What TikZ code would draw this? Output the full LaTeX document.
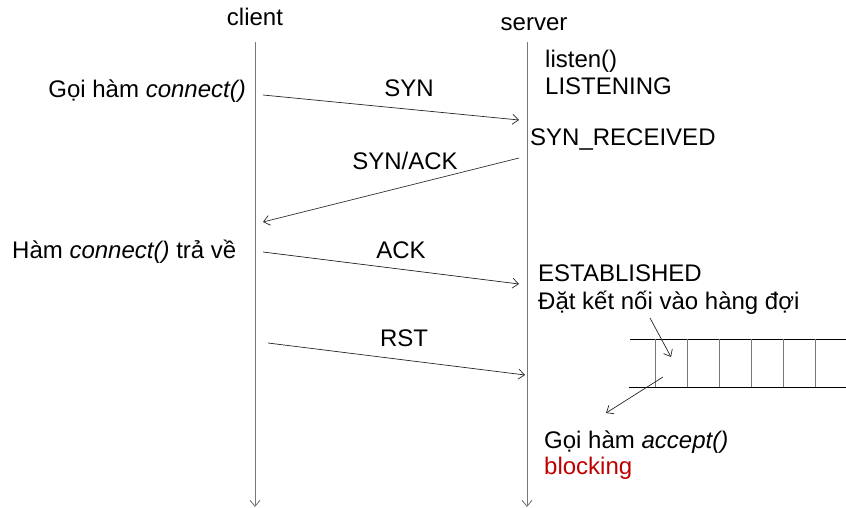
\documentclass[tikz,border=0pt]{standalone}
\usepackage{fontspec}
\setmainfont{Liberation Sans}
\usetikzlibrary{arrows.meta}

\definecolor{lifegray}{RGB}{120,120,120}
\definecolor{blockred}{RGB}{192,0,0}

\tikzset{
  lbl/.style={inner sep=0pt, font=\fontsize{24}{27}\selectfont},
  msg/.style={draw=black!85, line width=0.7pt, -{Straight Barb[length=6pt,width=10pt]}},
  life/.style={draw=lifegray, line width=0.9pt, -{Straight Barb[length=6pt,width=10pt]}},
}

\begin{document}
\begin{tikzpicture}[x=1pt,y=-1pt]
\useasboundingbox (0,0) rectangle (846,508);
% the two life lines
\coordinate (ctop) at (255,42);
\coordinate (cbot) at (255,507);
\coordinate (stop) at (527,42);
\coordinate (sbot) at (527,507);
\draw[life] (ctop) -- (cbot);
\draw[life] (stop) -- (sbot);
\node[lbl, anchor=base] (client) at (255,26) {client};
\node[lbl, anchor=base] (server) at (534,31) {server};
% texts on the client side
\node[lbl, anchor=base east] (connect) at (246,98) {Gọi hàm \textit{connect()}};
\node[lbl, anchor=base west] (returns) at (12,258) {Hàm \textit{connect()} trả về};
% texts on the server side
\node[lbl, anchor=base west] (listen) at (545,68) {listen()};
\node[lbl, anchor=base west] (listening) at (545,95) {LISTENING};
\node[lbl, anchor=base west] (synrecv) at (530,146) {SYN\_RECEIVED};
\node[lbl, anchor=base west] (established) at (538,281) {ESTABLISHED};
\node[lbl, anchor=base west] (enqueue) at (538,309) {Đặt kết nối vào hàng đợi};
\node[lbl, anchor=base west] (accept) at (544,448) {Gọi hàm \textit{accept()}};
\node[lbl, anchor=base west, text=blockred] (blocking) at (544,474) {blocking};
% the messages
\coordinate (syn0) at (263,95);   \coordinate (syn1) at (519,120);
\coordinate (sa0) at (519,158);   \coordinate (sa1) at (263,222);
\coordinate (ack0) at (263,252);  \coordinate (ack1) at (519,284);
\coordinate (rst0) at (268,343);  \coordinate (rst1) at (525,375);
\draw[msg] (syn0) -- (syn1);
\draw[msg] (sa0) -- (sa1);
\draw[msg] (ack0) -- (ack1);
\draw[msg] (rst0) -- (rst1);
\node[lbl, anchor=base] (synlbl) at (409,97) {SYN};
\node[lbl, anchor=base] (salbl) at (405,169) {SYN/ACK};
\node[lbl, anchor=base] (acklbl) at (401,258) {ACK};
\node[lbl, anchor=base] (rstlbl) at (404,346) {RST};
% the queue
\draw[black, line width=0.7pt] (630,339) -- (846,339);
\draw[black, line width=0.7pt] (629,387) -- (846,387);
\foreach \x in {655,687,...,815}
  \draw[lifegray, line width=0.9pt] (\x,339) -- (\x,387);
\coordinate (in0) at (650,318);  \coordinate (in1) at (671,357);
\coordinate (out0) at (663,377); \coordinate (out1) at (606,413);
\draw[msg] (in0) -- (in1);
\draw[msg] (out0) -- (out1);
\end{tikzpicture}
\end{document}
